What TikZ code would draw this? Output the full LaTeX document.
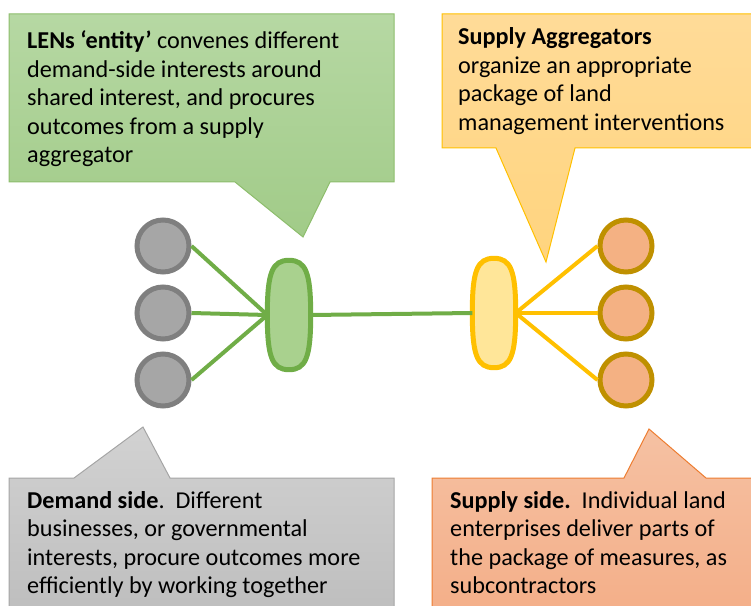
\documentclass[tikz,border=0pt]{standalone}
\usepackage{fontspec}
\setmainfont{Carlito}
\definecolor{grnline}{HTML}{70AD47}
\definecolor{grnfill}{HTML}{A9D18E}
\definecolor{grntop}{HTML}{B6D8A3}
\definecolor{grnbot}{HTML}{A1CB88}
\definecolor{ylwline}{HTML}{FFC000}
\definecolor{ylwfill}{HTML}{FFE699}
\definecolor{ylwtop}{HTML}{FFDB98}
\definecolor{ylwbot}{HTML}{FFD47E}
\definecolor{gryline}{HTML}{7F7F7F}
\definecolor{gryfill}{HTML}{A6A6A6}
\definecolor{grytop}{HTML}{D2D2D2}
\definecolor{grybot}{HTML}{BCBCBC}
\definecolor{gryedge}{HTML}{A5A5A5}
\definecolor{orgline}{HTML}{BF9000}
\definecolor{orgfill}{HTML}{F4B183}
\definecolor{orgtop}{HTML}{F5C1A3}
\definecolor{orgbot}{HTML}{F4AD86}
\definecolor{orgedge}{HTML}{ED7D31}
\tikzset{
  dot/.style={circle, line width=5bp, minimum size=52bp, inner sep=0pt},
  demand/.style={dot, draw=gryline, fill=gryfill},
  supply/.style={dot, draw=orgline, fill=orgfill},
  hub/.style={rectangle, minimum width=43bp, minimum height=109bp, inner sep=0pt},
  hubline/.style={line width=5bp},
  link/.style={line width=4bp},
  calltext/.style={anchor=north west, inner sep=0pt, align=left, font=\fontsize{24.3}{28.7}\selectfont},
  callout/.style={line width=1bp}
}
\newcommand{\hubshape}[1]{%
  (#1.north) .. controls ++(17,0) and ++(0,-42) .. (#1.east)
  .. controls ++(0,42) and ++(17,0) .. (#1.south)
  .. controls ++(-17,0) and ++(0,42) .. (#1.west)
  .. controls ++(0,-42) and ++(-17,0) .. (#1.north) -- cycle}
\begin{document}
\begin{tikzpicture}[x=1bp,y=-1bp]
\useasboundingbox (0,0) rectangle (751,606);
\clip (0,0) rectangle (751,606);
% callouts
\shade[callout, top color=grntop, bottom color=grnbot, draw=grnline!80]
  (9,14) -- (394,14) -- (394,182) -- (330,182) -- (303,237) -- (235,182) -- (9,182) -- cycle;
\shade[callout, top color=ylwtop, bottom color=ylwbot, draw=ylwline]
  (442,14) -- (770,14) -- (770,148) -- (575,148) -- (546,262) -- (496,148) -- (442,148) -- cycle;
\shade[callout, top color=grytop, bottom color=grybot, draw=gryedge]
  (9,478) -- (74,478) -- (143,427) -- (170,478) -- (394,478) -- (394,630) -- (9,630) -- cycle;
\shade[callout, top color=orgtop, bottom color=orgbot, draw=orgedge]
  (432,478) -- (624,478) -- (649,429) -- (706,478) -- (770,478) -- (770,630) -- (432,630) -- cycle;
% callout texts
\node[calltext] (t1) at (27,30.5) {\textbf{LENs ‘entity’} convenes different\\demand-side interests around\\shared interest, and procures\\outcomes from a supply\\aggregator};
\node[calltext] (t2) at (458,27.5) {\textbf{Supply Aggregators}\\organize an appropriate\\package of land\\management interventions};
\node[calltext] (t3) at (27,491) {\textbf{Demand side}.\ \ Different\\businesses, or governmental\\interests, procure outcomes more\\efficiently by working together};
\node[calltext] (t4) at (450,491) {\textbf{Supply side.}\ \ Individual land\\enterprises deliver parts of\\the package of measures, as\\subcontractors};
% network nodes
\node[demand] (d1) at (163,246) {};
\node[demand] (d2) at (163,313) {};
\node[demand] (d3) at (163,380) {};
\node[supply] (s1) at (626,246) {};
\node[supply] (s2) at (626,313) {};
\node[supply] (s3) at (626,380) {};
\node[hub] (lens) at (289,315) {};
\node[hub] (agg) at (494,313) {};
\draw[hubline, draw=grnline, fill=grnfill] \hubshape{lens};
\draw[hubline, draw=ylwline, fill=ylwfill] \hubshape{agg};
% links
\draw[link, grnline] (d1.east) -- (lens.west);
\draw[link, grnline] (d2.east) -- (lens.west);
\draw[link, grnline] (d3.east) -- (lens.west);
\draw[link, grnline] (lens.east) -- (agg.west);
\draw[link, ylwline] (agg.east) -- (s1.west);
\draw[link, ylwline] (agg.east) -- (s2.west);
\draw[link, ylwline] (agg.east) -- (s3.west);
\end{tikzpicture}
\end{document}
